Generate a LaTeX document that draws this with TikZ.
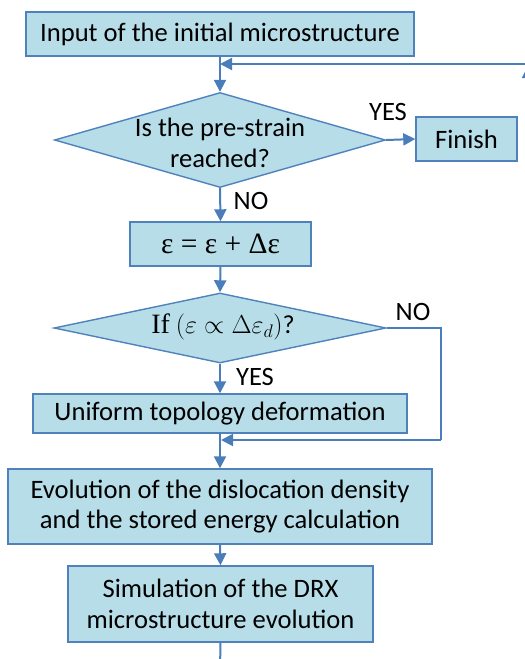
\documentclass[tikz,border=0pt]{standalone}
\usepackage{fix-cm}
\usepackage{fontspec}
\setmainfont{Carlito}
\newfontfamily\serifgreek{Liberation Serif}
\usetikzlibrary{arrows.meta,shapes.geometric}
\definecolor{boxfill}{HTML}{B7DEE8}
\definecolor{boxline}{HTML}{4F81BD}
\definecolor{conn}{HTML}{4A7EBB}
\tikzset{
  procbox/.style={draw=boxline,fill=boxfill,line width=1.4pt,inner sep=0pt,align=center,
    font=\fontsize{26.6}{30.5}\selectfont},
  decbox/.style={diamond,draw=boxline,fill=boxfill,line width=1.4pt,inner sep=0pt},
  conline/.style={draw=conn,line width=2pt},
  conarrow/.style={conline,-{Triangle[length=12pt,width=12pt]}},
  lbl/.style={font=\fontsize{26.5}{28}\selectfont,inner sep=0pt}
}
\begin{document}
\begin{tikzpicture}[x=1pt,y=-1pt]
\useasboundingbox (0,0) rectangle (525,659);
\clip (0,0) rectangle (525,659);
% boxes
\node[procbox,minimum width=388pt,minimum height=44pt] (b1) at (220,34) {Input of the initial microstructure};
\node[decbox,minimum width=331pt,minimum height=95pt,aspect=3.48] (d1) at (220,140) {};
\node[align=center,font=\fontsize{26.6}{30.5}\selectfont] (d1t) at (220,143) {Is the pre-strain\\reached?};
\node[procbox,minimum width=101pt,minimum height=44pt] (fin) at (466.5,139) {Finish};
\node[procbox,minimum width=181pt,minimum height=44pt] (b2) at (220.5,244) {\serifgreek\fontsize{29.5}{32}\selectfont ε = ε + Δε};
\node[decbox,minimum width=332pt,minimum height=70pt,aspect=4.74] (d2) at (220,328) {};
\node[font=\fontsize{26}{30}\selectfont] (d2t) at (223,327) {{\serifgreek\fontsize{28}{30}\selectfont If} $(\varepsilon\propto\Delta\varepsilon_d)$?};
\node[procbox,minimum width=374pt,minimum height=39pt] (b3) at (220,413.5) {Uniform topology deformation};
\node[procbox,minimum width=424pt,minimum height=75pt] (b4) at (220,506.5) {Evolution of the dislocation density\\and the stored energy calculation};
\node[procbox,minimum width=305pt,minimum height=76pt] (b5) at (220.5,604) {Simulation of the DRX\\microstructure evolution};
% labels
\node[lbl] (y1) at (388,112) {YES};
\node[lbl] (n1) at (251,201) {NO};
\node[lbl] (n2) at (413,312) {NO};
\node[lbl] (y2) at (255,377) {YES};
% coordinates
\coordinate (j1) at (220,64);
\coordinate (r1) at (540,64);
\coordinate (rb) at (528,700);
\coordinate (rt) at (528,66);
\coordinate (nA) at (441,328);
\coordinate (nB) at (441,440);
\coordinate (j2) at (221,440);
\coordinate (bot) at (220,670);
% connectors
\draw[conarrow] (b1.south) -- (d1.north);
\draw[conarrow] (r1) -- (j1);
\draw[conarrow] (rb) -- (rt);
\draw[conarrow] (d1.east) -- (fin.west);
\draw[conarrow] (d1.south) -- (b2.north);
\draw[conarrow] (b2.south) -- (d2.north);
\draw[conarrow] (d2.south) -- (b3.north);
\draw[conline] (d2.east) -- (nA) -- (nB);
\draw[conarrow] (nB) -- (j2);
\draw[conarrow] (b3.south) -- (b4.north);
\draw[conarrow] (b4.south) -- (b5.north);
\draw[conline] (b5.south) -- (bot);
\end{tikzpicture}
\end{document}
